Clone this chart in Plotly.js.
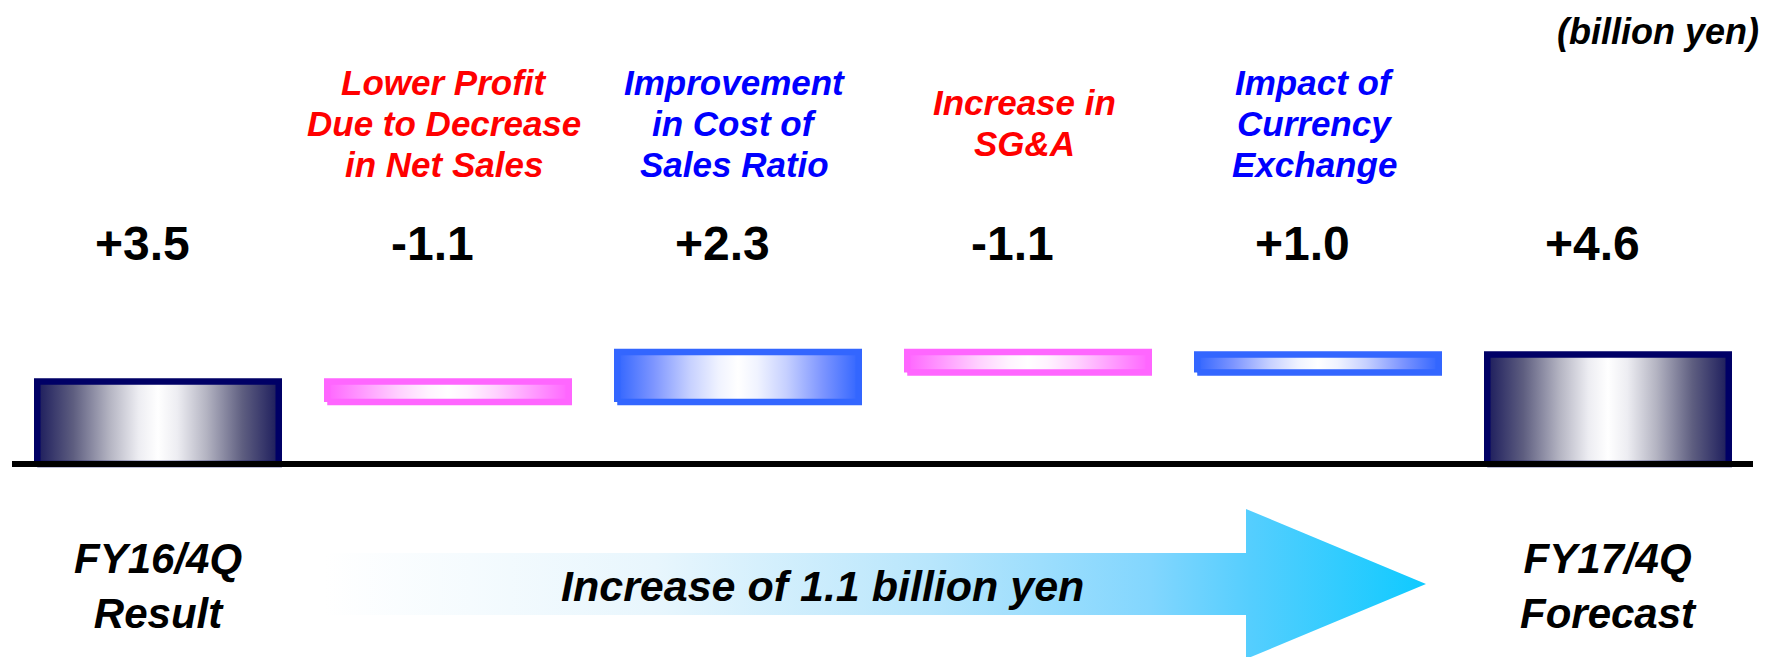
<!DOCTYPE html>
<html>
<head>
<meta charset="utf-8">
<script src="https://cdn.plot.ly/plotly-3.0.1.min.js"></script>
<style>
  html, body { margin: 0; padding: 0; background: #ffffff; }
  #chart { width: 1765px; height: 657px; }
</style>
</head>
<body>
<div id="chart"></div>
<script>
// ---- Operating profit bridge, FY16/4Q result to FY17/4Q forecast (billion yen) ----
const stepNames = [
  'FY16/4Q<br>Result',
  'Lower Profit<br>Due to Decrease<br>in Net Sales',
  'Improvement<br>in Cost of<br>Sales Ratio',
  'Increase in<br>SG&A',
  'Impact of<br>Currency<br>Exchange',
  'FY17/4Q<br>Forecast'
];
const stepKinds = ['total', 'relative', 'relative', 'relative', 'relative', 'total'];
const stepValues = [3.5, -1.1, 2.3, -1.1, 1.0, 4.6];
const unitLabel = '(billion yen)';
const changeLabel = 'Increase of 1.1 billion yen';

// ---- page geometry (pixels) ----
const W = 1765, H = 657;
const slotPitch = 290;      // distance between bar centres
const firstSlot = 158;      // centre of the first bar
const barWidthPx = 248;
const baselinePx = 464;     // where the zero line sits
const pxPerUnit = 24.5;     // vertical scale
const borderPx = 6.5;
const nameLineGap = 41;     // line spacing of the step names above the bars

const FONT = 'Liberation Sans, Arial, Helvetica, sans-serif';

const palettes = {
  total: {
    edge: '#000066',
    scale: [[0, '#1c1c5c'], [0.15, '#5e5e80'], [0.3, '#b4b4c2'], [0.42, '#ededf2'],
            [0.5, '#ffffff'], [0.58, '#ededf2'], [0.7, '#b4b4c2'], [0.85, '#5e5e80'], [1, '#1c1c5c']]
  },
  up: {
    edge: '#3366ff',
    scale: [[0, '#3366ff'], [0.15, '#7d95ff'], [0.3, '#c6d0ff'], [0.42, '#f0f3ff'],
            [0.5, '#ffffff'], [0.58, '#f0f3ff'], [0.7, '#c6d0ff'], [0.85, '#7d95ff'], [1, '#3366ff']]
  },
  down: {
    edge: '#ff66ff',
    scale: [[0, '#ff66ff'], [0.15, '#ff9cff'], [0.3, '#ffd2ff'], [0.42, '#fff3ff'],
            [0.5, '#ffffff'], [0.58, '#fff3ff'], [0.7, '#ffd2ff'], [0.85, '#ff9cff'], [1, '#ff66ff']]
  }
};

const traces = [];

// Broad arrow behind the change label (drawn in the pixel-space overlay axes)
const arrow = { x0: 325, neck: 1246, tip: 1426, mid: 584, shaftHalf: 31, headHalf: 75 };
traces.push({
  type: 'scatter', xaxis: 'x2', yaxis: 'y2', mode: 'lines',
  x: [arrow.x0, arrow.neck, arrow.neck, arrow.tip, arrow.neck, arrow.neck, arrow.x0, arrow.x0],
  y: [arrow.mid - arrow.shaftHalf, arrow.mid - arrow.shaftHalf, arrow.mid - arrow.headHalf, arrow.mid,
      arrow.mid + arrow.headHalf, arrow.mid + arrow.shaftHalf, arrow.mid + arrow.shaftHalf, arrow.mid - arrow.shaftHalf],
  fill: 'toself',
  fillgradient: {
    type: 'horizontal',
    colorscale: [[0, '#ffffff'], [0.3, '#e8f6fd'], [0.55, '#b8e6fc'], [0.75, '#82d6fe'],
                 [0.84, '#55cefe'], [1, '#0fcaff']]
  },
  line: { width: 0 },
  hoverinfo: 'skip', showlegend: false
});

// Waterfall bars built from the running total
const halfW = barWidthPx / slotPitch / 2;
const insetX = (borderPx / 2) / slotPitch;
const insetY = (borderPx / 2) / pxPerUnit;
let running = 0;
const annotations = [];
stepValues.forEach((v, i) => {
  let lo, hi, pal;
  if (stepKinds[i] === 'total') {
    lo = 0; hi = v; running = v; pal = palettes.total;
  } else {
    lo = Math.min(running, running + v);
    hi = Math.max(running, running + v);
    running += v;
    pal = v >= 0 ? palettes.up : palettes.down;
  }
  const x0 = i - halfW + insetX, x1 = i + halfW - insetX;
  const y0 = lo === 0 ? lo : lo + insetY;
  const y1 = hi - insetY;
  traces.push({
    type: 'scatter', mode: 'lines',
    x: [x0, x1, x1, x0, x0],
    y: [y0, y0, y1, y1, y0],
    fill: 'toself',
    fillgradient: { type: 'horizontal', colorscale: pal.scale },
    line: { color: pal.edge, width: borderPx },
    hoverinfo: 'skip', showlegend: false
  });

  // value above each bar
  annotations.push({
    xref: 'x', yref: 'y2', x: i, y: 243, xshift: -16,
    text: (v > 0 ? '+' : '') + v.toFixed(1),
    showarrow: false, xanchor: 'center', yanchor: 'middle',
    font: { family: FONT, size: 48, color: '#000000', weight: 'bold' }
  });

  // step name: above for changes, below the baseline for the two totals
  if (stepKinds[i] === 'total') {
    annotations.push({
      xref: 'x', yref: 'y2', x: i, y: 586,
      text: stepNames[i], showarrow: false, xanchor: 'center', yanchor: 'middle',
      font: { family: FONT, size: 42, color: '#000000', weight: 'bold', style: 'italic' }
    });
  } else {
    const lines = stepNames[i].split('<br>');
    lines.forEach((ln, k) => {
      annotations.push({
        xref: 'x', yref: 'y2', x: i, y: 123 + (k - (lines.length - 1) / 2) * nameLineGap, xshift: -4,
        text: ln, showarrow: false, xanchor: 'center', yanchor: 'middle',
        font: { family: FONT, size: 35, color: v >= 0 ? '#0000ff' : '#ff0000', weight: 'bold', style: 'italic' }
      });
    });
  }
});

annotations.push({
  xref: 'x2', yref: 'y2', x: 1761, y: 31, text: unitLabel,
  showarrow: false, xanchor: 'right', yanchor: 'middle',
  font: { family: FONT, size: 36, color: '#000000', weight: 'bold', style: 'italic' }
});
annotations.push({
  xref: 'x2', yref: 'y2', x: 822, y: 586, text: changeLabel,
  showarrow: false, xanchor: 'center', yanchor: 'middle',
  font: { family: FONT, size: 43, color: '#000000', weight: 'bold', style: 'italic' }
});

const layout = {
  width: W, height: H,
  margin: { l: 0, r: 0, t: 0, b: 0, pad: 0 },
  paper_bgcolor: '#ffffff', plot_bgcolor: '#ffffff',
  showlegend: false,
  xaxis: { range: [-firstSlot / slotPitch, (W - firstSlot) / slotPitch], visible: false, fixedrange: true },
  yaxis: { range: [-(H - baselinePx) / pxPerUnit, baselinePx / pxPerUnit], visible: false, fixedrange: true },
  xaxis2: { overlaying: 'x', anchor: 'y2', range: [0, W], visible: false, fixedrange: true },
  yaxis2: { overlaying: 'y', anchor: 'x2', range: [H, 0], visible: false, fixedrange: true },
  shapes: [{
    type: 'line', layer: 'above', xref: 'x2', yref: 'y',
    x0: 12, x1: 1753, y0: 0, y1: 0,
    line: { color: '#000000', width: 6 }
  }],
  annotations: annotations
};

Plotly.newPlot('chart', traces, layout, { staticPlot: true, displayModeBar: false });
</script>
</body>
</html>
